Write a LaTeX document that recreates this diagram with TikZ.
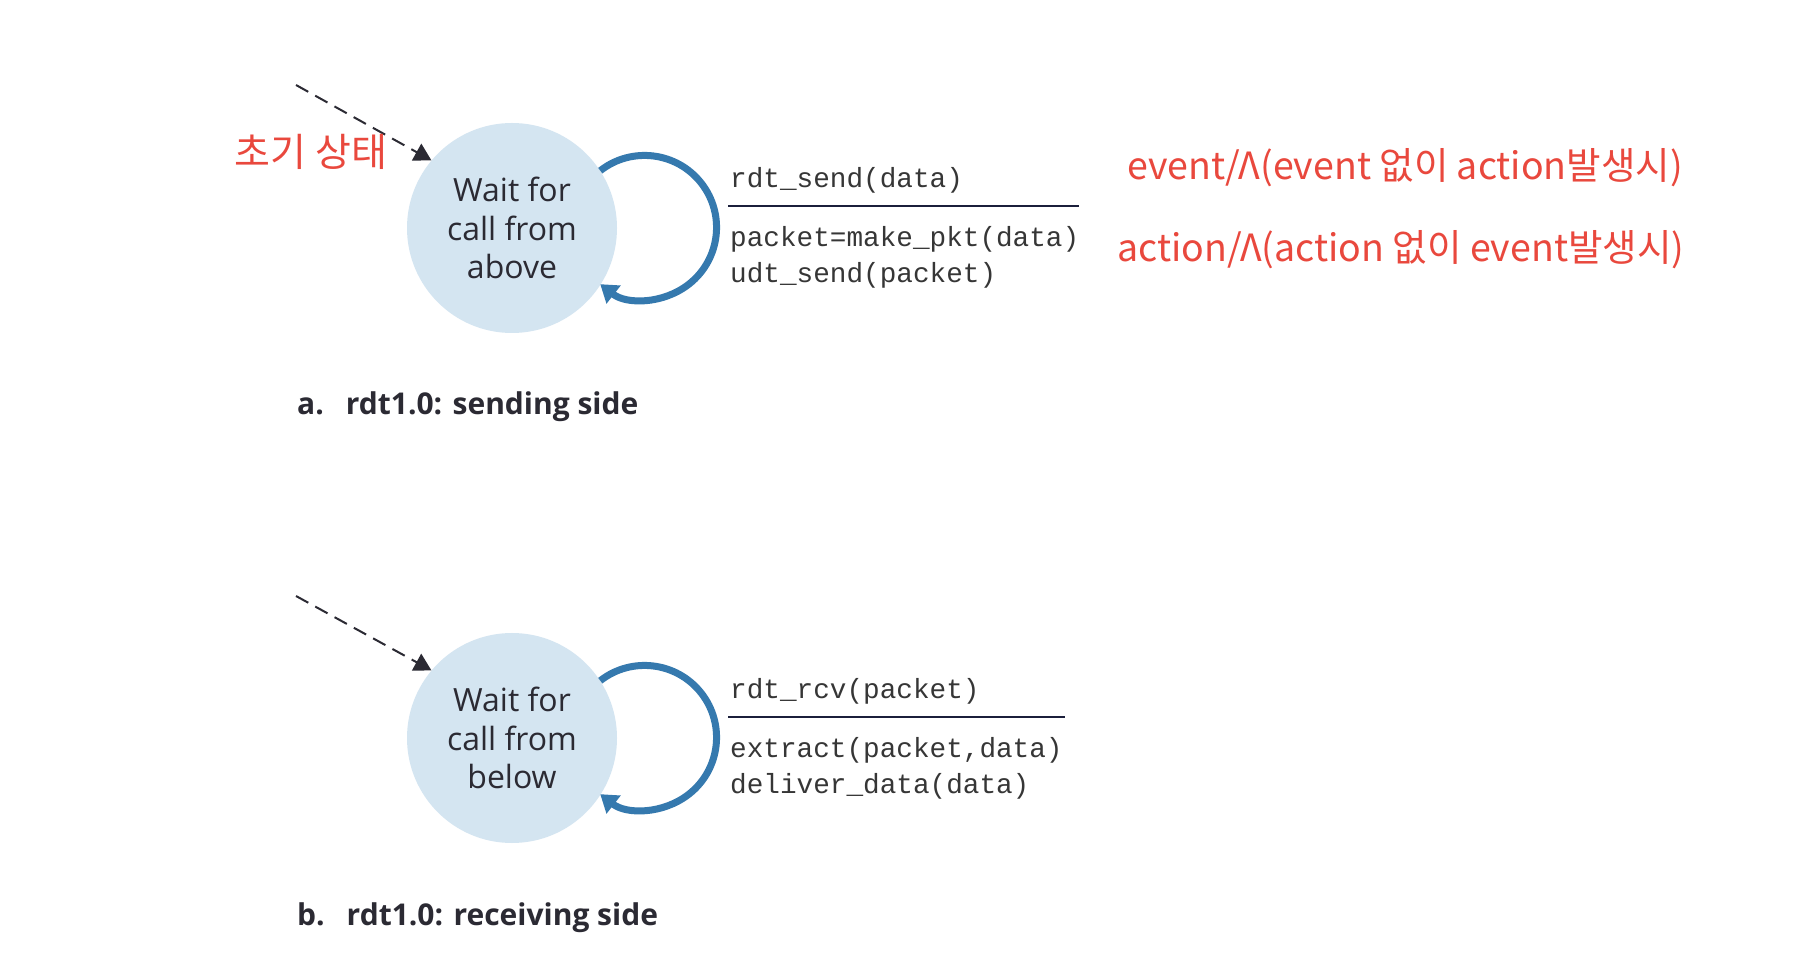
\documentclass[tikz,border=0pt]{standalone}
\usepackage{fontspec}
\setmainfont{Open Sans}
\setmonofont{Liberation Mono}
\newfontfamily\kofont{Noto Sans CJK KR}
\usetikzlibrary{arrows.meta,positioning}
\definecolor{rdtInk}{HTML}{2B2A33}
\definecolor{rdtBlue}{HTML}{3579AE}
\definecolor{rdtFill}{HTML}{D4E5F1}
\definecolor{rdtRed}{HTML}{E9483D}
\definecolor{rdtCode}{HTML}{363636}
\definecolor{rdtRule}{HTML}{1B1F3B}
\tikzset{
    fsmstate/.style={circle, fill=rdtFill, minimum size=210pt, inner sep=0pt, align=center, text=rdtInk, font=\fontsize{32}{38.5}\selectfont},
    selfloop/.style={-{Triangle[length=17pt,width=22pt]}, line width=7pt, draw=rdtBlue},
    initarrow/.style={-{Triangle[length=17pt,width=19pt]}, line width=2pt, dash pattern=on 14pt off 8pt, draw=rdtInk},
    code/.style={anchor=base west, inner sep=0pt, align=left, text=rdtCode, font=\fontsize{27.7}{36}\ttfamily},
    divider/.style={line width=2pt, draw=rdtRule},
    caption/.style={anchor=base west, inner sep=0pt, text=rdtInk, font=\fontsize{30}{36}\selectfont\bfseries},
    note/.style={inner sep=0pt, text=rdtRed, font=\kofont\fontsize{37.5}{42}\selectfont}
}
\begin{document}
\begin{tikzpicture}[x=1pt, y=1pt]
    \useasboundingbox (0,0) rectangle (1820,970);
    \fill[white] (0,0) rectangle (1820,970);
    % sending side
    \node[fsmstate] (send) at (512,742) {Wait for\\call from\\above};
    \coordinate (send-init) at (296,885);
    \draw[initarrow] (send-init) -- (send.140);
    \draw[selfloop] (send.33) arc[start angle=128, end angle=-128, radius=72];
    \node[note, font=\kofont\fontsize{39}{42}\selectfont] (init-note) at (311,818) {초기 상태};
    \node[code] (send-event) at (730,782) {rdt\_send(data)};
    \draw[divider] (728,764) -- (1079,764);
    \node[code] (send-action) at (730,687) {packet=make\_pkt(data)\\udt\_send(packet)};
    \node[note, anchor=base west] (event-note) at (1127,790) {event/Λ(event 없이 action발생시)};
    \node[note, anchor=base west] (action-note) at (1117,708) {action/Λ(action 없이 event발생시)};
    \node[caption] (send-cap) at (297,555) {a.\hspace{22pt}rdt1.0: sending side};
    % receiving side
    \node[fsmstate] (recv) at (512,232) {Wait for\\call from\\below};
    \coordinate (recv-init) at (296,374);
    \draw[initarrow] (recv-init) -- (recv.140);
    \draw[selfloop] (recv.33) arc[start angle=128, end angle=-128, radius=72];
    \node[code] (recv-event) at (730,272) {rdt\_rcv(packet)};
    \draw[divider] (728,253) -- (1065,253);
    \node[code] (recv-action) at (730,177) {extract(packet,data)\\deliver\_data(data)};
    \node[caption] (recv-cap) at (297,45) {b.\hspace{22pt}rdt1.0: receiving side};
\end{tikzpicture}
\end{document}
